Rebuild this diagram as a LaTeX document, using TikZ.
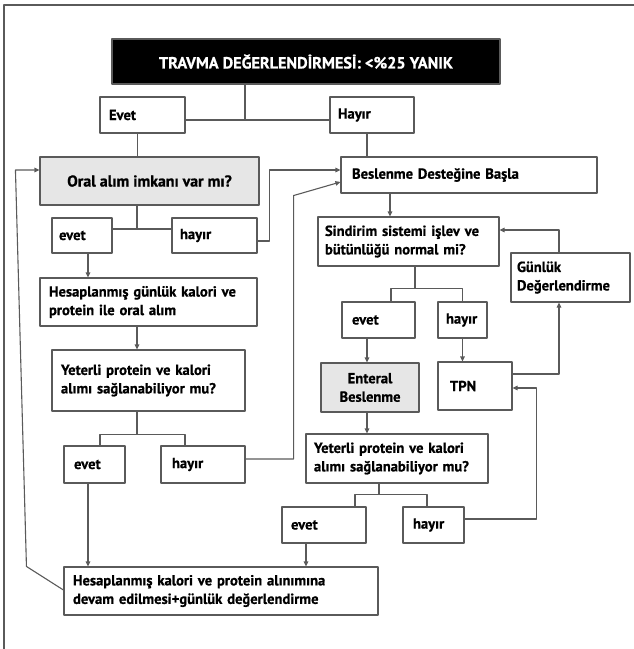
\documentclass[tikz,border=0pt]{standalone}
\usepackage{fontspec}
\setmainfont[BoldFeatures={FakeBold=0.8}]{PT Sans}
\usetikzlibrary{arrows.meta,positioning}
\definecolor{lineg}{HTML}{5A5A5A}
\definecolor{fillg}{HTML}{E6E6E6}

\begin{document}
\begin{tikzpicture}[x=1pt,y=-1pt,>={Triangle[length=5pt,width=4.5pt]},line join=round,
    box/.style={draw=lineg,line width=1.1pt,inner xsep=8pt,inner ysep=2pt,align=left,
      font=\bfseries\fontsize{14.6}{18.5}\selectfont},
    greybox/.style={box,fill=fillg,align=center},
    headbox/.style={draw=lineg,fill=black,text=white,line width=1.1pt,align=center,
      font=\bfseries\fontsize{16.2}{19}\selectfont},
    conn/.style={draw=lineg,line width=1.1pt},
    arr/.style={conn,->}]
    \useasboundingbox (0,0) rectangle (634,649);
    \draw[draw=lineg,line width=1.6pt] (4,649) -- (4,5) -- (634,5);

    % boxes
    \node[headbox,minimum width=388,minimum height=45] (head) at (306,61.5) {TRAVMA DEĞERLENDİRMESİ: <\%25 YANIK};
    \node[box,minimum width=85,minimum height=36,text width=67] (evetT) at (142.5,115) {Evet};
    \node[box,minimum width=84,minimum height=36,text width=68] (hayirT) at (372,115) {Hayır};
    \node[greybox,minimum width=219,minimum height=48,font=\bfseries\fontsize{15.8}{18}\selectfont] (oral) at (149.5,181) {Oral alım imkanı var mı?};
    \node[box,minimum width=256,minimum height=36,text width=234,inner xsep=11pt] (beslenme) at (469,175) {Beslenme Desteğine Başla};
    \node[box,minimum width=60,minimum height=35,text width=46,inner xsep=7pt] (evetA) at (82,235.5) {evet};
    \node[box,minimum width=85,minimum height=35,text width=69] (hayirA) at (214.5,235.5) {hayır};
    \node[box,minimum width=217,minimum height=48,text width=199,inner xsep=9pt] (hesapA) at (148.5,302) {Hesaplanmış günlük kalori ve\\protein ile oral alım};
    \node[box,minimum width=193,minimum height=61,text width=175,inner xsep=9pt] (yeterliA) at (148.5,380.5) {Yeterli protein ve kalori\\alımı sağlanabiliyor mu?};
    \node[box,minimum width=61,minimum height=37,text width=41,inner xsep=10pt] (evetB) at (94.5,464.5) {evet};
    \node[box,minimum width=84,minimum height=37,text width=62,inner xsep=11pt] (hayirB) at (203,464.5) {hayır};
    \node[box,minimum width=314,minimum height=48,text width=296,inner xsep=9pt] (son) at (221,591) {Hesaplanmış kalori ve protein alınımına\\devam edilmesi+günlük değerlendirme};
    \node[box,minimum width=181,minimum height=49,text width=167,inner xsep=7pt] (sindirim) at (408.5,241.5) {Sindirim sistemi işlev ve\\bütünlüğü normal mi?};
    \node[box,minimum width=119,minimum height=49,text width=107,inner xsep=6pt] (gunluk) at (570.5,277.5) {Günlük\\Değerlendirme};
    \node[box,minimum width=73,minimum height=36,text width=53,inner xsep=10pt] (evetC) at (378.5,320) {evet};
    \node[box,minimum width=49,minimum height=36,text width=33,inner xsep=8pt] (hayirC) at (462.5,320) {hayır};
    \node[greybox,minimum width=98,minimum height=49] (enteral) at (370,387.5) {Enteral\\Beslenme};
    \node[box,minimum width=74,minimum height=48,text width=50,inner xsep=12pt] (tpn) at (475,386) {TPN\\[-6pt]};
    \node[box,minimum width=182,minimum height=49,text width=166] (yeterliB) at (397,458.5) {Yeterli protein ve kalori\\alımı sağlanabiliyor mu?};
    \node[box,minimum width=84,minimum height=36,text width=66,inner xsep=9pt] (evetD) at (324,525) {evet};
    \node[box,minimum width=61,minimum height=36,text width=41,inner xsep=10pt] (hayirD) at (433.5,525) {hayır};

    % left branch
    \draw[conn] ([yshift=-5]evetT.east) coordinate (jA) -- ([yshift=-5]hayirT.west);
    \draw[conn] ([xshift=-61]head.south) -- ([xshift=-61]head.south |- jA);
    \draw[conn] ([xshift=-5]evetT.south) -- ([xshift=-5]evetT.south |- oral.north);
    \draw[conn] ([yshift=6.5]evetA.east) coordinate (jB) -- ([yshift=6.5]hayirA.west);
    \draw[conn] ([xshift=-12.5]oral.south) -- ([xshift=-12.5]oral.south |- jB);
    \draw[arr] ([yshift=-5.5]hayirA.east) -| ([xshift=12,yshift=5]beslenme.west -| hayirA.east) -- ([yshift=5]beslenme.west);
    \draw[arr] ([xshift=6]evetA.south) -- ([xshift=6]evetA.south |- hesapA.north);
    \draw[arr] ([xshift=-11.5]hesapA.south) -- ([xshift=-11.5]hesapA.south |- yeterliA.north);
    \draw[conn] ([xshift=-11.5]yeterliA.south) -- ([xshift=-11.5,yshift=11]yeterliA.south |- evetB.north);
    \draw[conn] ([xshift=5.5]evetB.north) -- ++(0,-11) -| ([xshift=-18]hayirB.north);
    \draw[arr] ([yshift=5.5]hayirB.east) -| ([xshift=48,yshift=-2]hayirB.east |- beslenme.south) -- ([yshift=-7]beslenme.west);
    \draw[arr] ([xshift=-6.5]evetB.south) -- ([xshift=-6.5]evetB.south |- son.north);
    \draw[arr] ([yshift=1]son.west) -- ([xshift=-37]son.north west) -- ([xshift=-24,yshift=11]oral.west) -- ([yshift=11]oral.west);

    % right branch
    \draw[conn] ([xshift=-5]hayirT.south) -- ([xshift=-5]hayirT.south |- beslenme.north);
    \draw[arr] ([xshift=-79]beslenme.south) -- ([xshift=-79]beslenme.south |- sindirim.north);
    \draw[conn] ([xshift=6.5]sindirim.south) -- ([xshift=6.5,yshift=13]sindirim.south |- evetC.north);
    \draw[conn] ([xshift=12.5]evetC.north) -- ++(0,-13) -| (hayirC.north);
    \draw[arr] ([xshift=-11.5]evetC.south) -- ([xshift=-11.5]evetC.south |- enteral.north);
    \draw[arr] (hayirC.south) -- (hayirC.south |- tpn.north);
    \draw[arr] ([yshift=12]tpn.east) -| ([xshift=-11.5]gunluk.south);
    \draw[arr] ([xshift=-11.5]gunluk.north) |- ([yshift=11.5]sindirim.east);
    \draw[arr] ([xshift=-3]enteral.south) -- ([xshift=-3]enteral.south |- yeterliB.north);
    \draw[conn] ([xshift=-18]yeterliB.south) -- ([xshift=-18,yshift=12]yeterliB.south |- evetD.north);
    \draw[conn] ([xshift=31]evetD.north) -- ++(0,-12) -| ([xshift=-6.5]hayirD.north);
    \draw[arr] ([yshift=6]hayirD.east) -| ([xshift=72,yshift=-2]hayirD.east |- tpn.east) -- ([yshift=-2]tpn.east);
    \draw[arr] ([xshift=-18]evetD.south) -- ([xshift=-18]evetD.south |- son.north);
\end{tikzpicture}
\end{document}
